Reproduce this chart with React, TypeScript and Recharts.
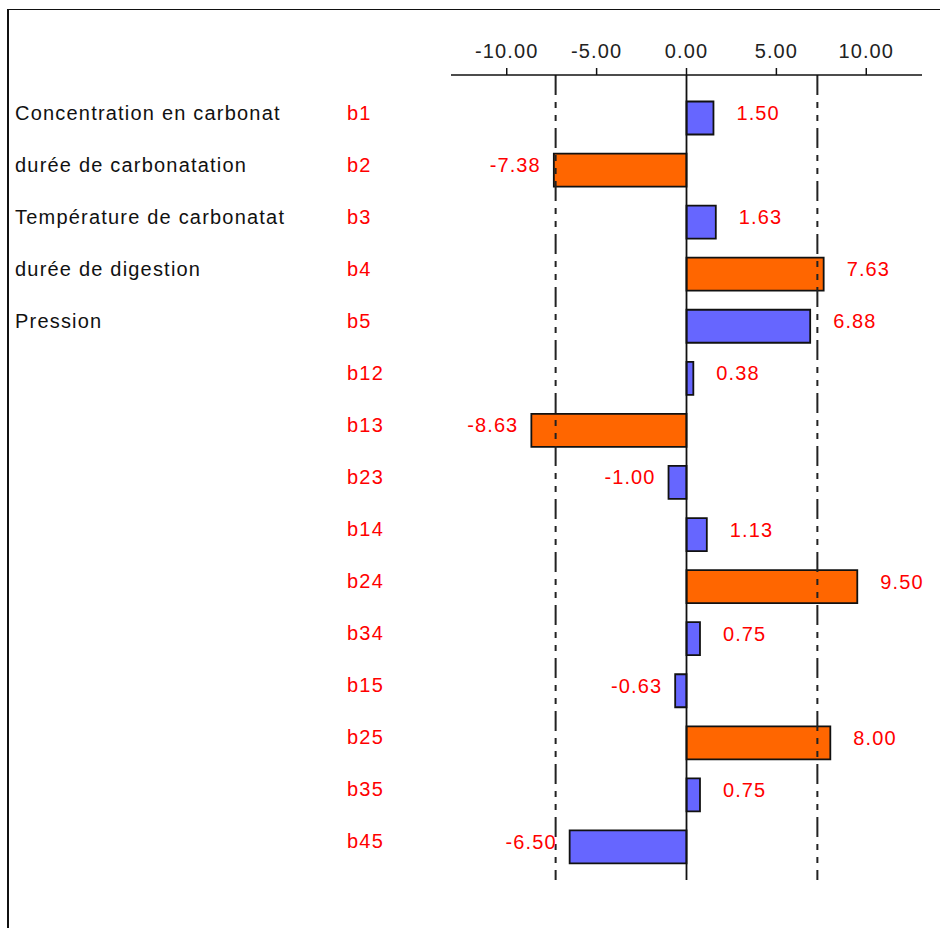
import { Bar, BarChart, Cell, LabelList, ReferenceLine, XAxis, YAxis } from "recharts";

// effets des facteurs et interactions
const codes = ["b1", "b2", "b3", "b4", "b5", "b12", "b13", "b23", "b14", "b24", "b34", "b15", "b25", "b35", "b45"];
const effects = [1.5, -7.38, 1.63, 7.63, 6.88, 0.38, -8.63, -1.0, 1.13, 9.5, 0.75, -0.63, 8.0, 0.75, -6.5];
const factorNames = [
  "Concentration en carbonat",
  "durée de carbonatation",
  "Température de carbonatat",
  "durée de digestion",
  "Pression",
];
const axisTicks = [-10, -5, 0, 5, 10];
const limits = [-7.28, 7.28];

const rows = codes.map((code, i) => ({
  code,
  name: factorNames[i] ?? "",
  effect: effects[i],
}));

const FONT = "'Liberation Sans', Arial, sans-serif";
const RED = "#FF0000";
const BLUE = "#6666FF";
const ORANGE = "#FF6600";

function RowTick(props: any) {
  const { y, index } = props;
  const row = rows[index];
  return (
    <g fontFamily={FONT} fontSize={20} letterSpacing={1.2}>
      <text x={15} y={y + 2} fill="#111">
        {row.name}
      </text>
      <text x={347} y={y + 2} fill={RED}>
        {row.code}
      </text>
    </g>
  );
}

function ValueTick(props: any) {
  const { x, y, payload } = props;
  return (
    <text x={x} y={y} textAnchor="middle" fontFamily={FONT} fontSize={20} letterSpacing={1.1} fill="#222">
      {payload.value.toFixed(2)}
    </text>
  );
}

function EffectLabel(props: any) {
  const { x, y, width, height, value } = props;
  const left = Math.min(x, x + width);
  const right = Math.max(x, x + width);
  const neg = value < 0;
  return (
    <text
      x={neg ? left - 13 : right + 23}
      y={y + height / 2 + 2}
      textAnchor={neg ? "end" : "start"}
      fontFamily={FONT}
      fontSize={20}
      letterSpacing={1.1}
      fill={RED}
    >
      {value.toFixed(2)}
    </text>
  );
}

export default function App() {
  return (
    <div style={{ position: "absolute", left: 0, top: 0, width: 940, height: 928, background: "#fff", overflow: "hidden" }}>
      <div
        style={{
          position: "absolute",
          left: 7,
          top: 9,
          width: 960,
          height: 960,
          borderLeft: "2px solid #111",
          borderTop: "1.5px solid #111",
        }}
      />
      <BarChart
        width={940}
        height={928}
        data={rows}
        layout="vertical"
        margin={{ top: 35, right: 18, bottom: 48, left: 0 }}
        barSize={33}
        style={{ position: "absolute", left: 0, top: 0 }}
      >
        <XAxis
          type="number"
          orientation="top"
          height={40}
          domain={[-13.1, 13.1]}
          ticks={axisTicks}
          tick={<ValueTick />}
          tickSize={7}
          tickMargin={10}
          axisLine={{ stroke: "#111", strokeWidth: 1.5 }}
          tickLine={{ stroke: "#111", strokeWidth: 1.5 }}
          allowDataOverflow
        />
        <YAxis
          type="category"
          dataKey="code"
          width={451}
          padding={{ top: 16.5, bottom: 7.5 }}
          axisLine={false}
          tickLine={false}
          tick={<RowTick />}
          interval={0}
        />
        {limits.map((v) => (
          <ReferenceLine key={v} x={v} stroke="#222" strokeWidth={2} strokeDasharray="20 7 6 7 6 7" />
        ))}
        <Bar dataKey="effect" stroke="#111" strokeWidth={1.8} isAnimationActive={false}>
          {rows.map((r) => (
            <Cell key={r.code} fill={Math.abs(r.effect) > limits[1] ? ORANGE : BLUE} />
          ))}
          <LabelList dataKey="effect" content={<EffectLabel />} />
        </Bar>
        <ReferenceLine x={0} stroke="#111" strokeWidth={1.8} />
      </BarChart>
    </div>
  );
}
